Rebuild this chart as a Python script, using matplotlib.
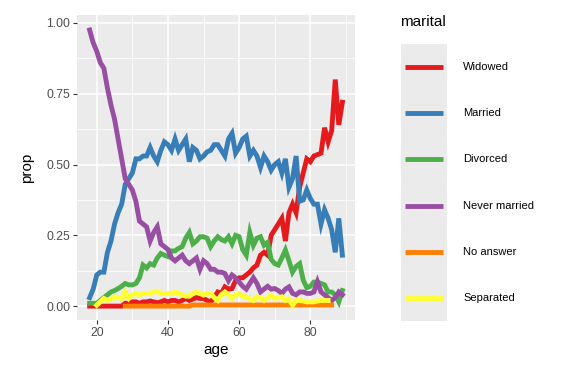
import numpy as np
import matplotlib
matplotlib.use('Agg')
import matplotlib.pyplot as plt
from matplotlib.ticker import MultipleLocator

plt.rcParams['font.family'] = ['Liberation Sans', 'DejaVu Sans']

# proportion of each marital status by age
ages = list(range(18, 90))

widowed = [0.0, 0.0, 0.0, 0.0, 0.0, 0.0, 0.0, 0.0, 0.0, 0.0,
           0.01, 0.01, 0.015, 0.015, 0.01, 0.015, 0.015, 0.018, 0.015, 0.012,
           0.015, 0.02, 0.015, 0.02, 0.02, 0.015, 0.02, 0.027, 0.02, 0.025,
           0.03, 0.027, 0.027, 0.02, 0.015, 0.03, 0.05, 0.045, 0.068, 0.06,
           0.062, 0.09, 0.10, 0.10, 0.11, 0.12, 0.135, 0.145, 0.18, 0.19,
           0.18, 0.25, 0.27, 0.29, 0.31, 0.23, 0.33, 0.36, 0.33, 0.42,
           0.47, 0.52, 0.51, 0.53, 0.535, 0.54, 0.63, 0.58, 0.62, 0.80,
           0.64, 0.72]

married = [0.03, 0.06, 0.11, 0.12, 0.12, 0.19, 0.23, 0.29, 0.33, 0.36,
           0.43, 0.45, 0.47, 0.52, 0.52, 0.53, 0.53, 0.56, 0.53, 0.51,
           0.55, 0.58, 0.57, 0.55, 0.59, 0.55, 0.57, 0.59, 0.51, 0.56,
           0.55, 0.52, 0.53, 0.545, 0.55, 0.57, 0.57, 0.55, 0.53, 0.59,
           0.61, 0.54, 0.56, 0.59, 0.60, 0.53, 0.55, 0.53, 0.49, 0.53,
           0.51, 0.48, 0.50, 0.51, 0.47, 0.52, 0.42, 0.45, 0.53, 0.37,
           0.375, 0.41, 0.38, 0.36, 0.36, 0.29, 0.34, 0.31, 0.27, 0.19,
           0.31, 0.18]

divorced = [0.01, 0.01, 0.01, 0.02, 0.03, 0.04, 0.05, 0.055, 0.062, 0.07,
            0.08, 0.075, 0.075, 0.08, 0.10, 0.145, 0.135, 0.15, 0.145, 0.17,
            0.186, 0.18, 0.175, 0.195, 0.195, 0.204, 0.21, 0.24, 0.26, 0.22,
            0.23, 0.245, 0.245, 0.24, 0.21, 0.23, 0.245, 0.235, 0.23, 0.245,
            0.22, 0.25, 0.245, 0.20, 0.18, 0.26, 0.215, 0.24, 0.245, 0.215,
            0.225, 0.165, 0.15, 0.145, 0.17, 0.198, 0.16, 0.12, 0.14, 0.15,
            0.092, 0.065, 0.07, 0.085, 0.085, 0.08, 0.075, 0.05, 0.05, 0.04,
            0.015, 0.055]

never_married = [0.975, 0.93, 0.90, 0.86, 0.84, 0.77, 0.71, 0.66, 0.59, 0.52,
                 0.45, 0.43, 0.41, 0.37, 0.30, 0.29, 0.28, 0.23, 0.26, 0.28,
                 0.22, 0.21, 0.20, 0.17, 0.16, 0.17, 0.18, 0.16, 0.15, 0.16,
                 0.17, 0.13, 0.16, 0.15, 0.13, 0.13, 0.12, 0.12, 0.115, 0.09,
                 0.11, 0.10, 0.085, 0.07, 0.06, 0.08, 0.10, 0.08, 0.05, 0.06,
                 0.07, 0.06, 0.062, 0.055, 0.045, 0.06, 0.068, 0.045, 0.04, 0.05,
                 0.05, 0.045, 0.045, 0.05, 0.086, 0.05, 0.04, 0.03, 0.02, 0.03,
                 0.05, 0.04]

no_answer_ages = list(range(28, 87))
no_answer = [0.0] * 19 + [0.004] * 40

separated_ages = list(range(20, 86))
separated = [0.003, 0.015, 0.027, 0.02, 0.025, 0.033, 0.03, 0.027, 0.05, 0.027,
             0.04, 0.045, 0.04, 0.045, 0.045, 0.045, 0.05, 0.053, 0.045, 0.045,
             0.045, 0.045, 0.05, 0.045, 0.04, 0.035, 0.035, 0.045, 0.05, 0.045,
             0.039, 0.045, 0.045, 0.03, 0.02, 0.04, 0.05, 0.04, 0.027, 0.04,
             0.045, 0.035, 0.033, 0.025, 0.02, 0.033, 0.03, 0.02, 0.03, 0.039,
             0.027, 0.03, 0.033, 0.02, 0.025, 0.003, 0.02, 0.02, 0.018, 0.015,
             0.015, 0.015, 0.018, 0.02, 0.02, 0.02]

labels = ['Widowed', 'Married', 'Divorced', 'Never married', 'No answer', 'Separated']
colors = ['#E41A1C', '#377EB8', '#4DAF4A', '#984EA3', '#FF7F00', '#FFFF33']
series = [(ages, widowed), (ages, married), (ages, divorced), (ages, never_married),
          (no_answer_ages, no_answer), (separated_ages, separated)]

fig = plt.figure(figsize=(5.76, 3.84), dpi=100)
ax = fig.add_axes([77 / 576, 1 - 320 / 384, 278 / 576, 305 / 384])
ax.set_facecolor('#EBEBEB')

for (x, y), c in zip(series, colors):
    ax.plot(x, y, color=c, lw=3.5, solid_joinstyle='miter')

ax.set_xlim(14.45, 92.55)
ax.set_ylim(-0.049, 1.028)
ax.xaxis.set_major_locator(MultipleLocator(20))
ax.xaxis.set_minor_locator(MultipleLocator(10))
ax.yaxis.set_major_locator(MultipleLocator(0.25))
ax.yaxis.set_minor_locator(MultipleLocator(0.125))
ax.set_yticks([0, 0.25, 0.5, 0.75, 1.0])
ax.set_yticklabels(['0.00', '0.25', '0.50', '0.75', '1.00'])
ax.grid(which='major', color='white', lw=1.1)
ax.grid(which='minor', color='white', lw=0.55)
ax.set_axisbelow(True)
for s in ax.spines.values():
    s.set_visible(False)
ax.tick_params(which='major', length=3, width=0.8, color='#333333',
               labelsize=8.8, labelcolor='#4D4D4D', pad=2)
ax.tick_params(which='minor', length=0)
ax.set_xlabel('age', fontsize=11, labelpad=3)
ax.set_ylabel('prop', fontsize=11, labelpad=9)

# legend drawn like ggplot's guide
lax = fig.add_axes([401 / 576, 1 - 321 / 384, 46 / 576, 277 / 384])
lax.set_facecolor('#EBEBEB')
lax.set_xlim(0, 1)
lax.set_ylim(0, len(labels))
lax.set_xticks([])
lax.set_yticks([])
for s in lax.spines.values():
    s.set_visible(False)
for i, (lab, c) in enumerate(zip(labels, colors)):
    yy = len(labels) - i - 0.5
    lax.plot([0.09, 0.91], [yy, yy], color=c, lw=3.5, solid_capstyle='butt')
    lax.text(1.35, yy, lab, fontsize=8, va='center', ha='left',
             transform=lax.transData, clip_on=False)
fig.text(400 / 576, 1 - 22 / 384, 'marital', fontsize=11, va='center', ha='left')

fig.savefig('out.png', dpi=100)
